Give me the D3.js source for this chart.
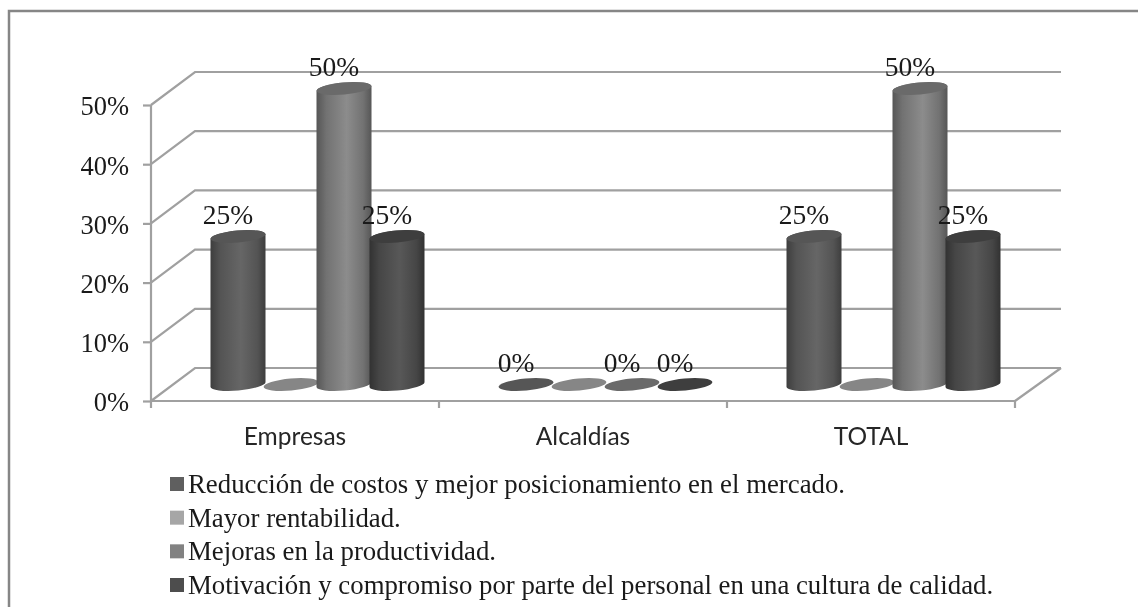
<!doctype html>
<html lang="en">
<head>
  <meta charset="utf-8">
  <title>Chart</title>
  <style>
    html, body { margin: 0; padding: 0; background: #fff; }
    svg { display: block; filter: blur(0.45px); }
    .serif { font-family: "Liberation Serif", serif; fill: #1a1a1a; }
    .cat { font-family: Lato, "Noto Sans", sans-serif; font-size: 24.5px; fill: #262626; }
    .axis path, .axis line, .grid { stroke: #a0a0a0; stroke-width: 2.2px; fill: none; }
  </style>
</head>
<body>
  <div id="chart"></div>
  <script src="https://d3js.org/d3.v7.min.js"></script>
  <script>
(function(){

  var categories = ["Empresas", "Alcaldías", "TOTAL"];
  var seriesNames = [
    "Reducción de costos y mejor posicionamiento en el mercado.",
    "Mayor rentabilidad.",
    "Mejoras en la productividad.",
    "Motivación y compromiso por parte del personal en una cultura de calidad."
  ];
  var reduccion = [25, 0, 25];
  var rentabilidad = [0, 0, 0];
  var productividad = [50, 0, 50];
  var motivacion = [25, 0, 25];
  var yTicks = [0, 10, 20, 30, 40, 50];

  var values = [reduccion, rentabilidad, productividad, motivacion];
  // "Mayor rentabilidad" has no data labels in the reference
  var showLabel = [true, false, true, true];

  var legendColors = ["#5f5f5f", "#a6a6a6", "#828282", "#4d4d4d"];
  var capColors = ["#565656", "#868686", "#6a6a6a", "#3e3e3e"];
  var edgeColors = ["#3e3e3e", "#555", "#565656", "#323232"];
  var shoulderColors = ["#545454", "#666", "#727272", "#464646"];
  var midColors = ["#666666", "#888", "#8c8c8c", "#585858"];

  var width = 1138, height = 607;
  // floor depth in the fake 3d view
  var depthX = 44, depthY = -33;

  var svg = d3.select("#chart").append("svg")
      .attr("width", width)
      .attr("height", height);

  var x = d3.scaleBand().domain(categories).range([151, 1015]);
  var y = d3.scaleLinear().domain([0, 50]).range([401, 105]);
  var inner = d3.scaleBand().domain(d3.range(4)).range([0, 1]);

  // outer frame, right and bottom edges are cut off in the reference
  svg.append("path")
    .attr("d", "M9,607V11H1138")
    .attr("fill", "none")
    .attr("stroke", "#868686")
    .attr("stroke-width", 2.5);

  // back wall gridlines and the slanted lines on the left wall
  yTicks.forEach(function(t) {
    svg.append("path")
      .attr("class", "grid")
      .attr("d", "M" + x.range()[0] + "," + y(t) + "L" + (x.range()[0] + depthX) + "," + (y(t) + depthY)
        + "H" + (x.range()[1] + depthX + 2));
  });

  // floor front edge
  svg.append("path")
    .attr("class", "grid")
    .attr("d", "M" + x.range()[1] + "," + y(0) + "L" + (x.range()[1] + depthX + 2) + "," + (y(0) + depthY));

  var yAxis = d3.axisLeft(y).tickValues(yTicks).tickSize(8).tickPadding(14)
    .tickFormat(function(d) { return d + "%"; });
  var gy = svg.append("g").attr("class", "axis").attr("transform", "translate(151,0)").call(yAxis);
  gy.select(".domain").attr("d", "M0," + y(50) + "V" + (y(0) + 7));
  gy.selectAll("text").attr("class", "serif").attr("font-size", 26.5).attr("dy", "0.37em");

  var xAxis = d3.axisBottom(x).tickSize(0).tickPadding(27);
  var gx = svg.append("g").attr("class", "axis").attr("transform", "translate(0," + y(0) + ")").call(xAxis);
  gx.select(".domain").attr("d", "M" + x.range()[0] + ",0H" + x.range()[1] + "V7");
  gx.selectAll("line").remove();
  gx.selectAll("text").attr("class", "cat").attr("fill", null).attr("font-family", null).attr("font-size", null);
  gx.selectAll(".sep").data(categories.slice(1)).enter().append("line")
    .attr("class", "sep")
    .attr("x1", function(d) { return x(d); }).attr("x2", function(d) { return x(d); })
    .attr("y1", 0).attr("y2", 7);

  // gradients across the cylinder width
  var defs = svg.append("defs");
  values.forEach(function(v, i) {
    var g = defs.append("linearGradient").attr("id", "cyl" + i);
    g.append("stop").attr("offset", "0%").attr("stop-color", edgeColors[i]);
    g.append("stop").attr("offset", "18%").attr("stop-color", shoulderColors[i]);
    g.append("stop").attr("offset", "55%").attr("stop-color", midColors[i]);
    g.append("stop").attr("offset", "85%").attr("stop-color", shoulderColors[i]);
    g.append("stop").attr("offset", "100%").attr("stop-color", edgeColors[i]);
  });

  var rows = [];
  values.forEach(function(v, i) {
    categories.forEach(function(c, j) {
      rows.push({ series: i, cat: c, value: v[j] });
    });
  });

  var groupW = 212, tilt = 2.4, ry = 6;
  function cx(d) {
    return x(d.cat) + x.bandwidth() / 2 + depthX / 2 - groupW / 2 + inner(d.series) * groupW + inner.bandwidth() * groupW / 2 + 0.5;
  }
  var rx = inner.bandwidth() * groupW / 2 + 1;

  function body(d) {
    var top = y(d.value) + depthY / 2, bot = y(0) + depthY / 2, c = cx(d);
    return "M" + (c - rx) + "," + (top + tilt) + "V" + (bot + tilt)
      + "A" + rx + "," + ry + " -5 0 0 " + (c + rx) + "," + (bot - tilt)
      + "V" + (top - tilt) + "A" + rx + "," + ry + " -5 0 0 " + (c - rx) + "," + (top + tilt) + "Z";
  }

  var cyl = svg.selectAll(".cyl").data(rows).enter().append("g").attr("class", "cyl");
  cyl.filter(function(d) { return d.value > 0; }).append("path")
    .attr("d", body)
    .attr("fill", function(d) { return "url(#cyl" + d.series + ")"; });
  cyl.append("ellipse")
    .attr("rx", rx).attr("ry", ry)
    .attr("transform", function(d) {
      return "translate(" + cx(d) + "," + (y(d.value) + depthY / 2) + ") rotate(-5)";
    })
    .attr("fill", function(d) { return capColors[d.series]; });

  svg.selectAll(".val").data(rows.filter(function(d) { return showLabel[d.series]; })).enter().append("text")
    .attr("class", "val serif")
    .attr("font-size", 27.5)
    .attr("text-anchor", "middle")
    .attr("x", function(d) { return cx(d) - 10; })
    .attr("y", function(d) { return y(d.value) + depthY / 2 - 12.5; })
    .text(function(d) { return d.value + "%"; });

  // legend
  var legendY = d3.scalePoint().domain(d3.range(4)).range([493, 594]);
  var leg = svg.selectAll(".leg").data(seriesNames).enter().append("g").attr("class", "leg");
  leg.append("rect")
    .attr("x", 170).attr("width", 14).attr("height", 14)
    .attr("y", function(d, i) { return legendY(i) - 16; })
    .attr("fill", function(d, i) { return legendColors[i]; });
  leg.append("text")
    .attr("class", "serif")
    .attr("x", 188)
    .attr("y", function(d, i) { return legendY(i); })
    .attr("font-size", 26.8)
    .text(function(d) { return d; });

})();
  </script>
</body>
</html>
